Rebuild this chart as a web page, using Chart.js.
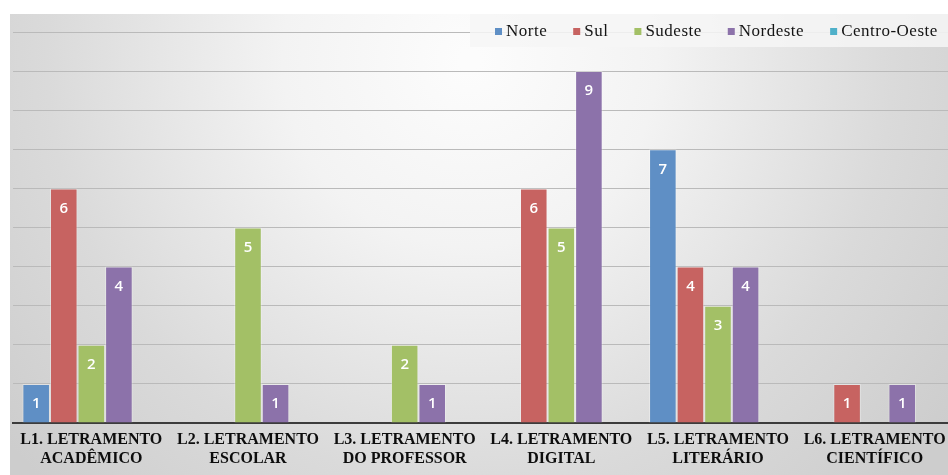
<!DOCTYPE html>
<html>
<head>
<meta charset="utf-8">
<script src="https://cdn.jsdelivr.net/npm/chart.js@4/dist/chart.umd.min.js"></script>
<style>
  html, body { margin: 0; padding: 0; background: #fff; overflow: hidden; }
  #wrap { width: 956px; height: 475px; }
</style>
</head>
<body>
<div id="wrap"><canvas id="chart" width="956" height="475"></canvas></div>
<script>
// Letramentos por região
const categories = [
    ['L1. LETRAMENTO', 'ACADÊMICO'],
    ['L2. LETRAMENTO', 'ESCOLAR'],
    ['L3. LETRAMENTO', 'DO PROFESSOR'],
    ['L4. LETRAMENTO', 'DIGITAL'],
    ['L5. LETRAMENTO', 'LITERÁRIO'],
    ['L6. LETRAMENTO', 'CIENTÍFICO']
];
const norte       = [1, 0, 0, 0, 7, 0];
const sul         = [6, 0, 0, 6, 4, 1];
const sudeste     = [2, 5, 2, 5, 3, 0];
const nordeste    = [4, 1, 1, 9, 4, 1];
const centroOeste = [0, 0, 0, 0, 0, 0];

const seriesNames = ['Norte', 'Sul', 'Sudeste', 'Nordeste', 'Centro-Oeste'];
const seriesData = [norte, sul, sudeste, nordeste, centroOeste];
const colors = ['#5f8fc5', '#c76361', '#a3c066', '#8c72aa', '#4fb0c9'];

// gray radial background behind everything
const backgroundPlugin = {
    id: 'bgGradient',
    beforeDraw(chart) {
        const ctx = chart.ctx;
        ctx.save();
        ctx.fillStyle = '#ffffff';
        ctx.fillRect(0, 0, chart.width, chart.height);
        const g = ctx.createRadialGradient(470, 60, 10, 470, 60, 600);
        g.addColorStop(0, '#fcfcfc');
        g.addColorStop(0.3, '#f3f3f3');
        g.addColorStop(0.7, '#dadada');
        g.addColorStop(1, '#cdcdcd');
        ctx.fillStyle = g;
        ctx.fillRect(10, 14, chart.width - 10, chart.height - 14);
        ctx.restore();
    }
};

// white value labels inside top of bars
const valueLabels = {
    id: 'valueLabels',
    afterDatasetsDraw(chart) {
        const ctx = chart.ctx;
        ctx.save();
        ctx.font = '600 15px "Open Sans", sans-serif';
        ctx.fillStyle = '#ffffff';
        ctx.textAlign = 'center';
        ctx.textBaseline = 'middle';
        chart.data.datasets.forEach((ds, i) => {
            const meta = chart.getDatasetMeta(i);
            meta.data.forEach((bar, j) => {
                const v = ds.data[j];
                if (!v) return;
                ctx.fillText(String(v), bar.x, bar.y + 20);
            });
        });
        ctx.restore();
    }
};

// legend drawn over the top of the plot, like the original
const topLegend = {
    id: 'topLegend',
    afterDraw(chart) {
        const ctx = chart.ctx;
        ctx.save();
        ctx.fillStyle = 'rgba(246,246,246,0.85)';
        ctx.fillRect(470, 14, chart.width - 470, 33);
        ctx.font = '17px "Liberation Serif", "Times New Roman", serif';
        ctx.letterSpacing = '0.5px';
        ctx.textBaseline = 'middle';
        let x = 495;
        const y = 31;
        chart.data.datasets.forEach((ds) => {
            ctx.fillStyle = ds.backgroundColor;
            ctx.fillRect(x, y - 3, 7, 7);
            ctx.fillStyle = '#141414';
            ctx.fillText(ds.label, x + 11, y + 1);
            x += 11 + ctx.measureText(ds.label).width + 26;
        });
        ctx.restore();
    }
};

new Chart(document.getElementById('chart'), {
    type: 'bar',
    data: {
        labels: categories,
        datasets: seriesNames.map((name, i) => ({
            label: name,
            data: seriesData[i],
            backgroundColor: colors[i],
            borderColor: 'rgba(255,255,255,0.35)',
            borderWidth: 1,
            barPercentage: 1,
            categoryPercentage: 0.88
        }))
    },
    options: {
        responsive: false,
        animation: false,
        layout: { padding: { left: 13, top: 32, right: 3, bottom: 0 } },
        plugins: {
            legend: { display: false },
            tooltip: { enabled: false }
        },
        scales: {
            x: {
                grid: { display: false, drawTicks: false },
                border: { display: true, color: '#3c3c3c', width: 2 },
                ticks: {
                    color: '#0d0d0d',
                    padding: 7,
                    maxRotation: 0,
                    autoSkip: false,
                    font: { family: '"Liberation Serif", "Times New Roman", serif', size: 16, weight: 'bold', lineHeight: 1.2 }
                },
                afterFit(scale) { scale.height = 52; }
            },
            y: {
                min: 0,
                max: 10,
                ticks: { display: false, stepSize: 1 },
                grid: { color: '#bababa', lineWidth: 1, drawTicks: false },
                border: { display: false },
                afterFit(scale) { scale.width = 0; }
            }
        }
    },
    plugins: [backgroundPlugin, valueLabels, topLegend]
});
</script>
</body>
</html>
